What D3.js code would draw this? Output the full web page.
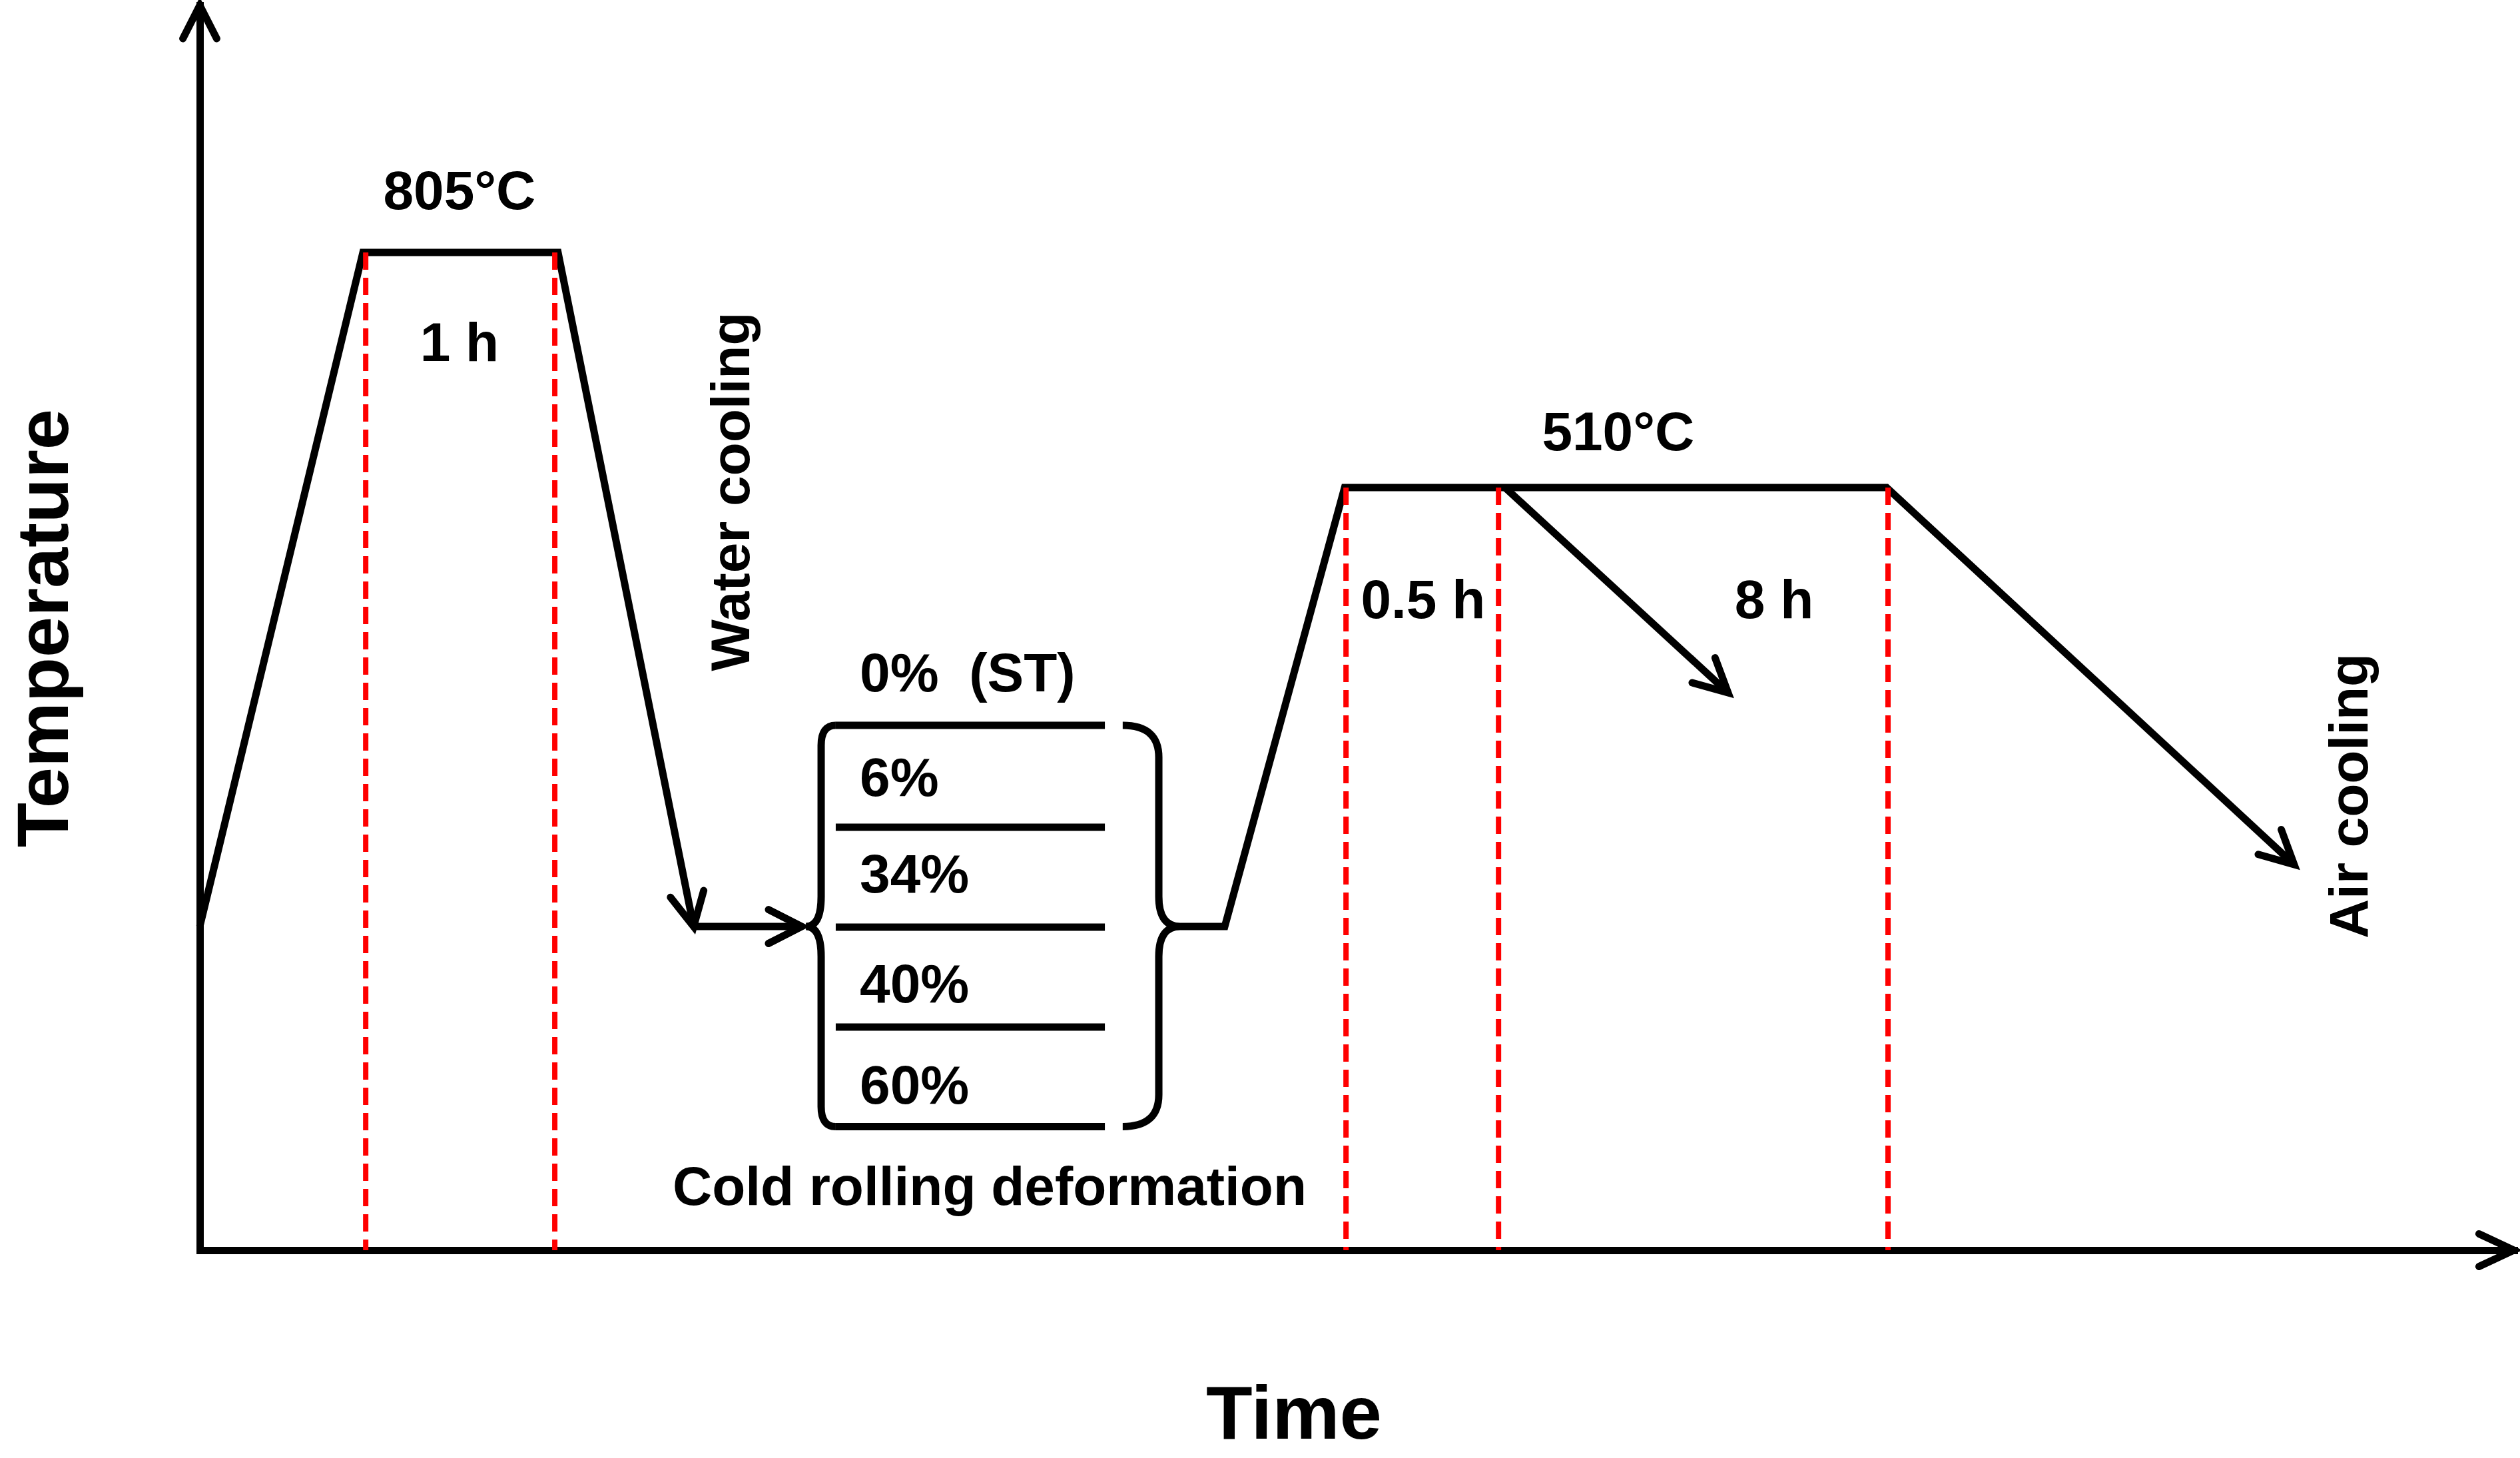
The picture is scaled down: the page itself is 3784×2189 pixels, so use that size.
<!DOCTYPE html>
<html>
<head>
<meta charset="utf-8">
<script src="https://cdn.jsdelivr.net/npm/d3@7"></script>
<style>
  html, body { margin: 0; padding: 0; background: #fff; }
  svg { display: block; }
  text { font-family: "Liberation Sans", Arial, sans-serif; font-weight: bold; fill: #000; white-space: pre; }
</style>
</head>
<body>
<svg id="chart" width="3784" height="2189"></svg>
<script>
// Schematic heat-treatment route: time (0-100) vs temperature level (0-100)

// solution treatment at 805°C, water cooled
const solutionPath = [[0, 26], [7.05, 80.15], [15.48, 80.15], [21.34, 26]];
// short feed arrow into the cold rolling brace
const feedPath = [[21.34, 26], [26.01, 26]];
// ageing at 510°C then air cooling
const agingPath = [[42.36, 26], [44.29, 26], [49.47, 61.26], [72.89, 61.26], [90.5, 30.98]];
// 0.5 h branch arrow
const branchPath = [[56.4, 61.26], [66.04, 44.78]];

// cold rolling rows (top line .. bottom line) and their span
const rowLevels = [42.16, 33.98, 25.95, 17.92, 9.93];
const rowSpan = [27.48, 39.11];
const leftBrace = { tip: 26.19, body: 26.85 };
const rightBrace = { start: 39.88, body: 41.44, tip: 42.36 };
const rollLabels = ['0%  (ST)', '6%', '34%', '40%', '60%'];
const rollLabelT = 28.52;
const rollLabelLevels = [44.89, 36.49, 28.73, 19.90, 11.77];

// red dashed time markers
const markerTimes = [7.17, 15.34, 49.53, 56.12, 72.95];
const markerTops = [80.15, 80.15, 61.26, 61.26, 61.26];

// annotations
const notes = [
  { text: '805°C', t: 11.22, T: 83.63 },
  { text: '1 h', t: 11.22, T: 71.43 },
  { text: '510°C', t: 61.29, T: 64.26 },
  { text: '0.5 h', t: 52.86, T: 50.78 },
  { text: '8 h', t: 68.03, T: 50.78 },
  { text: 'Cold rolling deformation', t: 34.13, T: 3.64 }
];
const sideNotes = [
  { text: 'Water cooling', t: 23.74, T: 60.94, size: 82 },
  { text: 'Air cooling', t: 93.67, T: 36.49, size: 82 },
  { text: 'Temperature', t: -5.7, T: 49.97, size: 110 }
];
const xTitle = { text: 'Time', t: 47.28, T: -15.14 };

const LW = 11, RW = 8, FS = 82;

const svg = d3.select('#chart');
const x = d3.scaleLinear().domain([0, 100]).range([300, 3775]);
const y = d3.scaleLinear().domain([0, 100]).range([1877, 8]);

const line = d3.line().x(d => x(d[0])).y(d => y(d[1]));

function arrowHead(g, from, to, len = 56, ang = 27) {
  const x1 = x(from[0]), y1 = y(from[1]), x2 = x(to[0]), y2 = y(to[1]);
  const a = Math.atan2(y1 - y2, x1 - x2);
  const r = ang * Math.PI / 180;
  const p = d3.path();
  p.moveTo(x2 + len * Math.cos(a + r), y2 + len * Math.sin(a + r));
  p.lineTo(x2, y2);
  p.lineTo(x2 + len * Math.cos(a - r), y2 + len * Math.sin(a - r));
  g.append('path').attr('d', p.toString())
    .attr('fill', 'none').attr('stroke', '#000').attr('stroke-width', LW)
    .attr('stroke-linecap', 'round').attr('stroke-linejoin', 'miter');
}

// axes (no ticks, arrows at ends)
const axG = svg.append('g');
axG.append('g').attr('transform', `translate(0,${y(0)})`)
  .call(d3.axisBottom(x).tickValues([]).tickSizeOuter(0));
axG.append('g').attr('transform', `translate(${x(0)},0)`)
  .call(d3.axisLeft(y).tickValues([]).tickSizeOuter(0));
axG.selectAll('.domain').attr('stroke', '#000').attr('stroke-width', LW).attr('stroke-linecap', 'square');
arrowHead(axG, [0, 0], [100, 0], 58, 25);
arrowHead(axG, [0, 0], [0, 100], 56, 27);

// process lines, each ending in an arrow
const pg = svg.append('g');
[solutionPath, feedPath, agingPath, branchPath].forEach(pts => {
  pg.append('path').attr('d', line(pts))
    .attr('fill', 'none').attr('stroke', '#000').attr('stroke-width', LW)
    .attr('stroke-linejoin', 'miter').attr('stroke-miterlimit', 2);
  arrowHead(pg, pts[pts.length - 2], pts[pts.length - 1]);
});

// rows of cold rolling
pg.selectAll('line.row').data(rowLevels).join('line')
  .attr('class', 'row')
  .attr('x1', x(rowSpan[0])).attr('x2', x(rowSpan[1]))
  .attr('y1', d => y(d)).attr('y2', d => y(d))
  .attr('stroke', '#000').attr('stroke-width', LW);

// braces
const braceTop = y(rowLevels[0]), braceBot = y(rowLevels[rowLevels.length - 1]);
const braceMid = y(26);
function brace(x0, xb, xt, rc, rm) {
  const p = d3.path();
  p.moveTo(x0, braceTop);
  p.quadraticCurveTo(xb, braceTop, xb, braceTop + rc);
  p.lineTo(xb, braceMid - rm);
  p.quadraticCurveTo(xb, braceMid, xt, braceMid);
  p.quadraticCurveTo(xb, braceMid, xb, braceMid + rm);
  p.lineTo(xb, braceBot - rc);
  p.quadraticCurveTo(xb, braceBot, x0, braceBot);
  return p.toString();
}
pg.append('path').attr('d', brace(x(rowSpan[0]), x(leftBrace.body), x(leftBrace.tip), 30, 45))
  .attr('fill', 'none').attr('stroke', '#000').attr('stroke-width', LW);
pg.append('path').attr('d', brace(x(rightBrace.start), x(rightBrace.body), x(rightBrace.tip), 48, 45))
  .attr('fill', 'none').attr('stroke', '#000').attr('stroke-width', LW);

// red dashed markers
svg.append('g').selectAll('line').data(markerTimes).join('line')
  .attr('x1', d => x(d)).attr('x2', d => x(d))
  .attr('y1', (d, i) => y(markerTops[i])).attr('y2', y(0))
  .attr('stroke', '#ff0000').attr('stroke-width', RW)
  .attr('stroke-dasharray', '26,12');

// texts
const tg = svg.append('g');
tg.selectAll('text.note').data(notes).join('text')
  .attr('class', 'note')
  .attr('x', d => x(d.t)).attr('y', d => y(d.T))
  .attr('text-anchor', 'middle').attr('font-size', FS)
  .text(d => d.text);

tg.selectAll('text.roll').data(rollLabels).join('text')
  .attr('class', 'roll')
  .attr('x', x(rollLabelT)).attr('y', (d, i) => y(rollLabelLevels[i]))
  .attr('font-size', FS)
  .text(d => d);

tg.selectAll('text.side').data(sideNotes).join('text')
  .attr('class', 'side')
  .attr('transform', d => `translate(${x(d.t)},${y(d.T)}) rotate(-90)`)
  .attr('text-anchor', 'middle').attr('font-size', d => d.size)
  .text(d => d.text);

tg.append('text')
  .attr('x', x(xTitle.t)).attr('y', y(xTitle.T))
  .attr('text-anchor', 'middle').attr('font-size', 114)
  .text(xTitle.text);
</script>
</body>
</html>
